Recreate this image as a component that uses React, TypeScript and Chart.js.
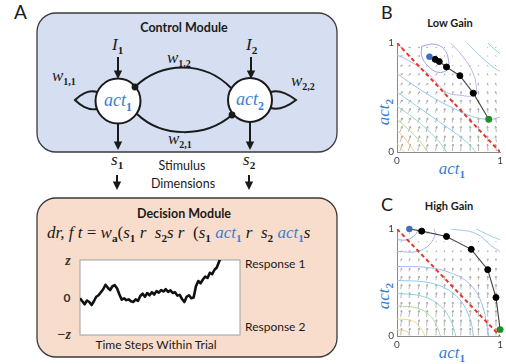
import React, { useEffect, useRef } from 'react';
import { Chart, registerables } from 'chart.js';
Chart.register(...registerables);

// ---------- Data ----------
// Decision module random-walk trace (evidence, in units of z)
const traceSteps = Array.from({ length: 62 }, (_, i) => i);
const traceValues = [
  -0.02, -0.1, -0.18, -0.08, -0.12, -0.2, -0.1, 0.02, 0.06, 0.14, 0.22, 0.34, 0.26, 0.2, 0.3, 0.33,
  0.24, 0.08, -0.06, -0.02, -0.07, -0.05, -0.1, -0.12, -0.05, -0.09, 0.04, 0.1, 0.02, 0.12, 0.06,
  0.14, 0.08, 0.17, 0.13, 0.2, 0.16, 0.22, 0.15, 0.19, 0.12, 0.14, 0.05, 0.07, -0.04, -0.12, 0.02,
  0.06, -0.02, 0.0, 0.3, 0.44, 0.38, 0.48, 0.56, 0.52, 0.66, 0.62, 0.74, 0.8, 0.96, 1.12,
];

// Phase plot: trajectories (act1, act2)
const lowGainAct1 = [0.315, 0.37, 0.41, 0.48, 0.61, 0.74, 0.89];
const lowGainAct2 = [0.874, 0.85, 0.83, 0.78, 0.7, 0.54, 0.3];
const highGainAct1 = [0.12, 0.24, 0.48, 0.72, 0.88, 0.96, 1.0];
const highGainAct2 = [1.0, 0.98, 0.93, 0.81, 0.62, 0.36, 0.06];

// Decision boundary act1 + act2 = 1
const boundaryAct1 = [0, 1];
const boundaryAct2 = [1, 0];

// Vector field grid and (separable) flow components
const fieldGrid = [0.04, 0.12, 0.21, 0.29, 0.38, 0.46, 0.54, 0.62, 0.71, 0.79, 0.88, 0.96];
const lowGainU = [0.3, 0.27, 0.24, 0.21, 0.17, 0.13, 0.09, 0.05, 0.01, -0.03, -0.07, -0.11];
const lowGainV = [0.85, 0.78, 0.7, 0.62, 0.54, 0.46, 0.38, 0.3, 0.21, 0.12, 0.04, -0.04];
const highGainU = [0.12, 0.11, 0.1, 0.09, 0.08, 0.07, 0.06, 0.05, 0.04, 0.03, 0.02, 0.0];
const highGainV = [0.9, 0.85, 0.8, 0.74, 0.68, 0.6, 0.52, 0.42, 0.32, 0.2, 0.08, -0.04];

// Contour lines (x = act1, y = act2)
const lowC1x = [0.24, 0.36, 0.46, 0.5, 0.49, 0.4, 0.3, 0.24, 0.24];
const lowC1y = [0.97, 0.99, 0.94, 0.84, 0.76, 0.73, 0.79, 0.88, 0.97];
const lowC2x = [0, 0.11, 0.3, 0.48, 0.62, 0.75, 0.77, 0.72, 0.6, 0.52];
const lowC2y = [0.89, 0.84, 0.72, 0.55, 0.52, 0.52, 0.6, 0.76, 0.92, 1.0];
const lowC3x = [0, 0.15, 0.35, 0.55, 0.75, 0.9, 1.0];
const lowC3y = [0.72, 0.62, 0.5, 0.4, 0.32, 0.3, 0.32];
const lowC4x = [0, 0.15, 0.3, 0.45, 0.6, 0.72, 0.76];
const lowC4y = [0.55, 0.45, 0.35, 0.25, 0.15, 0.05, 0];
const lowC5x = [0, 0.15, 0.3, 0.42, 0.48];
const lowC5y = [0.42, 0.32, 0.2, 0.08, 0];
const lowC6x = [0, 0.12, 0.22, 0.3];
const lowC6y = [0.3, 0.2, 0.1, 0];
const lowC7x = [0, 0.08, 0.17];
const lowC7y = [0.2, 0.12, 0];
const lowC8x = [0, 0.07];
const lowC8y = [0.08, 0];
const lowT1x = [0.68, 0.82, 0.93, 1.0];
const lowT1y = [1.0, 0.87, 0.78, 0.74];
const lowT2x = [0.88, 0.95, 1.0];
const lowT2y = [1.0, 0.94, 0.9];

const highC1x = [0, 0.1, 0.18, 0.21];
const highC1y = [0.9, 0.9, 0.95, 1.0];
const highC2x = [0, 0.2, 0.32, 0.37, 0.36];
const highC2y = [0.79, 0.79, 0.86, 0.95, 1.0];
const highC3x = [0, 0.3, 0.52, 0.7, 0.82, 0.89];
const highC3y = [0.65, 0.64, 0.59, 0.49, 0.31, 0];
const highC4x = [0, 0.3, 0.5, 0.64, 0.72, 0.74];
const highC4y = [0.52, 0.5, 0.43, 0.3, 0.12, 0];
const highC5x = [0, 0.25, 0.42, 0.52, 0.57];
const highC5y = [0.4, 0.37, 0.28, 0.15, 0];
const highC6x = [0, 0.2, 0.33, 0.4, 0.42];
const highC6y = [0.28, 0.26, 0.18, 0.06, 0];
const highC7x = [0, 0.15, 0.24, 0.27];
const highC7y = [0.16, 0.14, 0.06, 0];
const highC8x = [0, 0.1, 0.13];
const highC8y = [0.06, 0.04, 0];
const highT1x = [0.52, 0.76, 0.92, 1.0];
const highT1y = [1.0, 0.96, 0.84, 0.79];
const highT2x = [0.77, 0.92, 1.0];
const highT2y = [1.0, 0.93, 0.9];

const axisTicks = [0, 1];

const zip = (xs: number[], ys: number[]) => xs.map((x, i) => ({ x, y: ys[i] }));

const lowContours = [
  { x: lowC1x, y: lowC1y, c: '#a59ee2' },
  { x: lowC2x, y: lowC2y, c: '#b2b8ee' },
  { x: lowC3x, y: lowC3y, c: '#98c4ee' },
  { x: lowC4x, y: lowC4y, c: '#8ad2e2' },
  { x: lowC5x, y: lowC5y, c: '#96dcbc' },
  { x: lowC6x, y: lowC6y, c: '#b6dc8e' },
  { x: lowC7x, y: lowC7y, c: '#f2cc84' },
  { x: lowC8x, y: lowC8y, c: '#f2e28a' },
  { x: lowT1x, y: lowT1y, c: '#8ed0e4' },
  { x: lowT2x, y: lowT2y, c: '#8ad8cc' },
];
const highContours = [
  { x: highC1x, y: highC1y, c: '#a59ee2' },
  { x: highC2x, y: highC2y, c: '#aab2ec' },
  { x: highC3x, y: highC3y, c: '#9cbcee' },
  { x: highC4x, y: highC4y, c: '#90c8ec' },
  { x: highC5x, y: highC5y, c: '#8ed6d6' },
  { x: highC6x, y: highC6y, c: '#a8dc98' },
  { x: highC7x, y: highC7y, c: '#e8dc84' },
  { x: highC8x, y: highC8y, c: '#f4c88a' },
  { x: highT1x, y: highT1y, c: '#a0c4ee' },
  { x: highT2x, y: highT2y, c: '#9cd0ea' },
];

// ---------- Fonts / colours ----------
const MATH = "'Liberation Serif', 'DejaVu Serif', serif";
const SANS = "Lato, 'Open Sans', sans-serif";
const BLUE = '#3a7fd5';
const INK = '#1a1a1a';

// ---------- Vector field plugin ----------
const vecPlugin = {
  id: 'vecfield',
  beforeDatasetsDraw(chart: any, _args: any, opts: any) {
    const { ctx } = chart;
    const xs = chart.scales.x;
    const ys = chart.scales.y;
    const { grid, u, v, scale } = opts;
    if (!grid) return;
    ctx.save();
    ctx.strokeStyle = '#9a9a9a';
    ctx.lineWidth = 0.7;
    grid.forEach((gx: number, i: number) => {
      grid.forEach((gy: number, j: number) => {
        const px = xs.getPixelForValue(gx);
        const py = ys.getPixelForValue(gy);
        const dx = u[i] * scale;
        const dy = -v[j] * scale;
        const len = Math.hypot(dx, dy);
        if (len < 0.6) return;
        const x0 = px - dx / 2, y0 = py - dy / 2, x1 = px + dx / 2, y1 = py + dy / 2;
        const ux = dx / len, uy = dy / len;
        const h = Math.min(1.8, len * 0.4);
        ctx.beginPath();
        ctx.moveTo(x0, y0);
        ctx.lineTo(x1, y1);
        ctx.moveTo(x1 - ux * h - uy * h * 0.55, y1 - uy * h + ux * h * 0.55);
        ctx.lineTo(x1, y1);
        ctx.lineTo(x1 - ux * h + uy * h * 0.55, y1 - uy * h - ux * h * 0.55);
        ctx.stroke();
      });
    });
    ctx.restore();
  },
};

// ---------- Phase plot ----------
function PhasePlot(props: {
  top: number; padTop: number; xAxisH: number;
  a1: number[]; a2: number[]; contours: { x: number[]; y: number[]; c: string }[];
  u: number[]; v: number[];
}) {
  const ref = useRef<HTMLCanvasElement>(null);
  useEffect(() => {
    const n = props.a1.length;
    const traj = zip(props.a1, props.a2);
    const chart = new Chart(ref.current!, {
      type: 'scatter',
      data: {
        datasets: [
          { data: [traj[0]], pointRadius: 3, pointBackgroundColor: '#3d6fc4', pointBorderColor: '#2d5aa8', pointBorderWidth: 0.5, showLine: false, clip: false } as any,
          { data: [traj[n - 1]], pointRadius: 3.2, pointBackgroundColor: '#1f8f2a', pointBorderColor: '#1a7a22', pointBorderWidth: 0.5, showLine: false, clip: false } as any,
          { data: traj.slice(1, n - 1), pointRadius: 3, pointBackgroundColor: '#000', pointBorderColor: '#000', showLine: false, clip: false } as any,
          { data: traj, showLine: true, borderColor: '#444', borderWidth: 1.1, pointRadius: 0, tension: 0 } as any,
          { data: zip(boundaryAct1, boundaryAct2), showLine: true, borderColor: '#e8362c', borderWidth: 2, borderDash: [4, 3], pointRadius: 0 } as any,
          ...props.contours.map((c) => ({
            data: zip(c.x, c.y), showLine: true, borderColor: c.c, borderWidth: 1, pointRadius: 0, tension: 0.4,
          } as any)),
        ],
      },
      options: {
        animation: false,
        responsive: true,
        maintainAspectRatio: false,
        events: [],
        layout: { padding: { top: props.padTop, right: 1, left: 0, bottom: 0 } },
        plugins: {
          legend: { display: false },
          tooltip: { enabled: false },
          vecfield: { grid: fieldGrid, u: props.u, v: props.v, scale: 8 },
        } as any,
        scales: {
          x: {
            type: 'linear', min: 0, max: 1,
            afterBuildTicks: (s: any) => { s.ticks = axisTicks.map((value) => ({ value })); },
            afterFit: (s: any) => { s.height = props.xAxisH; },
            grid: { display: false, drawTicks: false },
            border: { display: true, color: '#8a8a8a', width: 1 },
            ticks: { padding: 3, font: { family: SANS, size: 10 }, color: '#444', maxRotation: 0 },
          },
          y: {
            type: 'linear', min: 0, max: 1,
            afterBuildTicks: (s: any) => { s.ticks = axisTicks.map((value) => ({ value })); },
            afterFit: (s: any) => { s.width = 27; },
            grid: { display: false, drawTicks: false },
            border: { display: true, color: '#8a8a8a', width: 1 },
            ticks: { padding: 3, font: { family: SANS, size: 10 }, color: '#444' },
          },
        },
      },
      plugins: [vecPlugin as any],
    });
    return () => chart.destroy();
  }, []);
  return (
    <div style={{ position: 'absolute', left: 370, top: props.top, width: 136, height: 182 }}>
      <canvas ref={ref} />
    </div>
  );
}

// ---------- Trace plot ----------
function TracePlot() {
  const ref = useRef<HTMLCanvasElement>(null);
  useEffect(() => {
    const chart = new Chart(ref.current!, {
      type: 'line',
      data: {
        labels: traceSteps,
        datasets: [{ data: traceValues, borderColor: '#111', borderWidth: 2.6, pointRadius: 0, tension: 0, borderJoinStyle: 'round' } as any],
      },
      options: {
        animation: false,
        responsive: true,
        maintainAspectRatio: false,
        events: [],
        layout: { padding: 0 },
        plugins: { legend: { display: false }, tooltip: { enabled: false } },
        scales: {
          x: { type: 'linear', min: 0, max: 69, display: false },
          y: { min: -1, max: 1, display: false },
        },
      },
    });
    return () => chart.destroy();
  }, []);
  return (
    <div style={{ position: 'absolute', left: 80, top: 260, width: 160, height: 75 }}>
      <canvas ref={ref} />
    </div>
  );
}

// ---------- Math text helper ----------
type Part = { t: string; s?: string; c?: string; up?: boolean };
function MathText({ x, y, parts, size = 16, anchor = 'start', subSize }: { x: number; y: number; parts: Part[]; size?: number; anchor?: string; subSize?: number }) {
  const shift = size * 0.26;
  const ss = subSize ?? size * 0.66;
  const spans: any[] = [];
  let down = false;
  parts.forEach((p, i) => {
    spans.push(
      <tspan key={i + 'a'} fontStyle={p.up ? 'normal' : 'italic'} fill={p.c || INK} dy={down ? -shift : 0}>{p.t}</tspan>
    );
    down = false;
    if (p.s) {
      spans.push(
        <tspan key={i + 'b'} fontStyle="normal" fontWeight="bold" fontSize={ss} fill={p.c || INK} dy={shift}>{p.s}</tspan>
      );
      down = true;
    }
  });
  return (
    <text x={x} y={y} fontFamily={MATH} fontSize={size} textAnchor={anchor as any} xmlSpace="preserve">{spans}</text>
  );
}

function DownArrow({ x, y1, y2 }: { x: number; y1: number; y2: number }) {
  return (
    <g>
      <line x1={x} y1={y1} x2={x} y2={y2 - 6} stroke={INK} strokeWidth={2} />
      <polygon points={`${x - 4.2},${y2 - 8.5} ${x + 4.2},${y2 - 8.5} ${x},${y2}`} fill={INK} />
    </g>
  );
}

function Diagram() {
  return (
    <svg width={506} height={364} style={{ position: 'absolute', left: 0, top: 0 }}>
      {/* panel letters */}
      <text x={14} y={19} fontFamily={SANS} fontSize={19} fill={INK}>A</text>
      <text x={381} y={19} fontFamily={SANS} fontSize={18} fill={INK}>B</text>
      <text x={381} y={211} fontFamily={SANS} fontSize={18} fill={INK}>C</text>

      {/* Control module */}
      <rect x={37} y={13} width={300} height={139} rx={19} fill="#d5dff1" stroke="#3a3a3a" strokeWidth={1.3} />
      <text x={184} y={32} fontFamily={SANS} fontWeight="bold" fontSize={12.5} textAnchor="middle" fill={INK}>Control Module</text>
      <MathText x={112} y={50} parts={[{ t: 'I', s: '1' }]} size={17} />
      <MathText x={246} y={50} parts={[{ t: 'I', s: '2' }]} size={17} />
      <DownArrow x={118} y1={57} y2={79} />
      <DownArrow x={251} y1={57} y2={79} />

      {/* recurrent connections */}
      <path d="M 97,92 C 88,89 79,96 75,100 C 79,104 88,111 97,109" fill="none" stroke={INK} strokeWidth={2} />
      <path d="M 271,92 C 280,89 291,96 296,100 C 291,104 280,111 271,108" fill="none" stroke={INK} strokeWidth={2} />
      <path d="M 135,87 C 162,61 205,61 231,88" fill="none" stroke={INK} strokeWidth={2} />
      <path d="M 137,114 C 162,138 205,138 232,115" fill="none" stroke={INK} strokeWidth={2} />

      <circle cx={118} cy={101} r={22.5} fill="#fff" stroke={INK} strokeWidth={2} />
      <circle cx={250} cy={100} r={22} fill="#fff" stroke={INK} strokeWidth={2} />
      <circle cx={135} cy={87} r={3.4} fill={INK} />
      <circle cx={232} cy={115} r={3.4} fill={INK} />
      <MathText x={118} y={106} anchor="middle" parts={[{ t: 'act', s: '1', c: BLUE }]} size={18} />
      <MathText x={250} y={105} anchor="middle" parts={[{ t: 'act', s: '2', c: BLUE }]} size={18} />

      <MathText x={52} y={81} parts={[{ t: 'w', s: '1,1' }]} size={17} subSize={10} />
      <MathText x={167} y={63} parts={[{ t: 'w', s: '1,2' }]} size={17} subSize={10} />
      <MathText x={168} y={144} parts={[{ t: 'w', s: '2,1' }]} size={17} subSize={10} />
      <MathText x={291} y={86} parts={[{ t: 'w', s: '2,2' }]} size={17} subSize={10} />

      <DownArrow x={118} y1={123} y2={150} />
      <DownArrow x={250} y1={122} y2={150} />

      {/* stimulus dimensions */}
      <MathText x={111} y={165} parts={[{ t: 's', s: '1' }]} size={17} />
      <MathText x={243} y={165} parts={[{ t: 's', s: '2' }]} size={17} />
      <text x={182} y={170} fontFamily={SANS} fontSize={12.5} textAnchor="middle" fill={INK}>Stimulus</text>
      <text x={183} y={188} fontFamily={SANS} fontSize={12.5} textAnchor="middle" fill={INK}>Dimensions</text>
      <DownArrow x={117} y1={175} y2={190} />
      <DownArrow x={249} y1={175} y2={190} />

      {/* Decision module */}
      <rect x={37} y={198} width={300} height={159} rx={19} fill="#f9ddcc" stroke="#3a3a3a" strokeWidth={1.3} />
      <text x={184} y={218} fontFamily={SANS} fontWeight="bold" fontSize={12.5} textAnchor="middle" fill={INK}>Decision Module</text>
      <MathText
        x={47}
        y={238}
        size={17}
        parts={[
          { t: 'dr, f t ' },
          { t: '= ', up: true },
          { t: 'w', s: 'a' },
          { t: '(', up: true },
          { t: 's', s: '1' },
          { t: ' r  ' },
          { t: 's', s: '2' },
          { t: 's r  ' },
          { t: '(', up: true },
          { t: 's', s: '1' },
          { t: ' ' },
          { t: 'act', s: '1', c: BLUE },
          { t: ' r  ' },
          { t: 's', s: '2' },
          { t: ' ' },
          { t: 'act', s: '1', c: BLUE },
          { t: 's' },
        ]}
      />
      <rect x={80} y={260} width={160} height={75} fill="#fff" stroke="#a0a0a0" strokeWidth={1} />
      <text x={68} y={265} fontFamily={MATH} fontStyle="italic" fontWeight="bold" fontSize={14} textAnchor="middle" fill="#333">z</text>
      <text x={67} y={302} fontFamily={SANS} fontWeight="bold" fontSize={12} textAnchor="middle" fill="#333">0</text>
      <text x={64} y={339} fontFamily={MATH} fontStyle="italic" fontWeight="bold" fontSize={14} textAnchor="middle" fill="#333">−z</text>
      <text x={245} y={268} fontFamily={SANS} fontSize={12} fill={INK}>Response 1</text>
      <text x={245} y={331} fontFamily={SANS} fontSize={12} fill={INK}>Response 2</text>
      <text x={156} y={349} fontFamily={SANS} fontSize={12} textAnchor="middle" fill={INK}>Time Steps Within Trial</text>

      {/* panel B / C titles and axis titles */}
      <text x={450} y={27} fontFamily={SANS} fontWeight="bold" fontSize={11} textAnchor="middle" fill={INK}>Low Gain</text>
      <text x={449} y={210} fontFamily={SANS} fontWeight="bold" fontSize={11} textAnchor="middle" fill={INK}>High Gain</text>
      <g transform="translate(389,112) rotate(-90)">
        <MathText x={0} y={0} anchor="middle" parts={[{ t: 'act', s: '2', c: BLUE }]} size={17} />
      </g>
      <g transform="translate(389,296) rotate(-90)">
        <MathText x={0} y={0} anchor="middle" parts={[{ t: 'act', s: '2', c: BLUE }]} size={17} />
      </g>
      <MathText x={452} y={174} anchor="middle" parts={[{ t: 'act', s: '1', c: BLUE }]} size={17} />
      <MathText x={452} y={358} anchor="middle" parts={[{ t: 'act', s: '1', c: BLUE }]} size={17} />
    </svg>
  );
}

export default function App() {
  return (
    <div style={{ position: 'fixed', left: 0, top: 0, width: 506, height: 364, background: '#fff', overflow: 'hidden' }}>
      <Diagram />
      <TracePlot />
      <PhasePlot top={0} padTop={43} xAxisH={30} a1={lowGainAct1} a2={lowGainAct2} contours={lowContours} u={lowGainU} v={lowGainV} />
      <PhasePlot top={182} padTop={47} xAxisH={28} a1={highGainAct1} a2={highGainAct2} contours={highContours} u={highGainU} v={highGainV} />
    </div>
  );
}
